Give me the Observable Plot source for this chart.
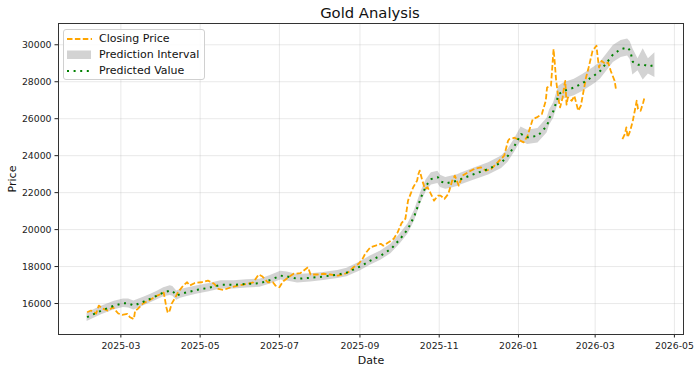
<!DOCTYPE html>
<html><head><meta charset="utf-8">
<script src="https://cdn.jsdelivr.net/npm/d3@7"></script>
<script src="https://cdn.jsdelivr.net/npm/@observablehq/plot@0.6"></script>
<style>
body{margin:0;background:#fff;font-family:"DejaVu Sans",sans-serif;}
#wrap{position:relative;width:700px;height:372px;overflow:hidden;}
#title{height:22px;width:700px;text-align:center;font-size:14.8px;line-height:26px;color:#111;padding-left:40px;box-sizing:border-box;white-space:nowrap;}
#chart svg{display:block;}
#legend{position:absolute;left:63px;top:29px;width:142px;height:51px;border:1px solid #d0d0d0;border-radius:3px;background:rgba(255,255,255,0.85);box-sizing:border-box;font-size:11px;color:#111;}
.row{position:absolute;left:0;height:16px;width:140px;}
.row svg{position:absolute;left:3px;top:0;}
.row span{position:absolute;left:35px;top:0;line-height:16px;white-space:nowrap;}
</style></head>
<body>
<div id="wrap">
<div id="title">Gold Analysis</div>
<div id="chart"></div>
<div id="legend">
 <div class="row" style="top:1px"><svg width="25" height="16"><line x1="0" x2="25" y1="8" y2="8" stroke="#FFA500" stroke-width="1.8" stroke-dasharray="5.5,2.4"/></svg><span>Closing Price</span></div>
 <div class="row" style="top:17px"><svg width="25" height="16"><rect x="0" y="3.5" width="24" height="8.5" fill="gray" fill-opacity="0.35"/></svg><span>Prediction Interval</span></div>
 <div class="row" style="top:33px"><svg width="25" height="16"><line x1="0" x2="25" y1="8" y2="8" stroke="green" stroke-width="2" stroke-dasharray="2,4.6"/></svg><span>Predicted Value</span></div>
</div>
</div>
<script>
const closeDates = ["2025-02-03","2025-02-06","2025-02-10","2025-02-12","2025-02-15","2025-02-19","2025-02-23","2025-02-25","2025-02-27","2025-03-02","2025-03-06","2025-03-08","2025-03-11","2025-03-12","2025-03-14","2025-03-18","2025-03-24","2025-03-29","2025-04-01","2025-04-03","2025-04-05","2025-04-06","2025-04-07","2025-04-08","2025-04-09","2025-04-12","2025-04-14","2025-04-18","2025-04-21","2025-04-23","2025-04-27","2025-05-02","2025-05-07","2025-05-12","2025-05-15","2025-05-19","2025-05-25","2025-05-30","2025-06-06","2025-06-11","2025-06-15","2025-06-18","2025-06-22","2025-06-26","2025-06-28","2025-07-01","2025-07-04","2025-07-08","2025-07-12","2025-07-17","2025-07-23","2025-07-25","2025-07-30","2025-08-04","2025-08-09","2025-08-15","2025-08-19","2025-08-23","2025-08-27","2025-08-31","2025-09-03","2025-09-05","2025-09-09","2025-09-13","2025-09-17","2025-09-19","2025-09-23","2025-09-27","2025-09-30","2025-10-03","2025-10-06","2025-10-08","2025-10-10","2025-10-12","2025-10-15","2025-10-16","2025-10-17","2025-10-19","2025-10-21","2025-10-23","2025-10-25","2025-10-28","2025-10-31","2025-11-02","2025-11-05","2025-11-08","2025-11-11","2025-11-13","2025-11-15","2025-11-16","2025-11-19","2025-11-23","2025-11-28","2025-12-03","2025-12-07","2025-12-11","2025-12-16","2025-12-21","2025-12-24","2025-12-25","2025-12-29","2026-01-05","2026-01-08","2026-01-12","2026-01-15","2026-01-19","2026-01-22","2026-01-23","2026-01-26","2026-01-28","2026-01-29","2026-01-30","2026-02-01","2026-02-02","2026-02-04","2026-02-05","2026-02-06","2026-02-07","2026-02-08","2026-02-11","2026-02-13","2026-02-16","2026-02-18","2026-02-22","2026-02-24","2026-02-27","2026-03-02","2026-03-03","2026-03-04","2026-03-06","2026-03-09","2026-03-11","2026-03-13","2026-03-16","2026-03-17","2026-03-19","2026-03-22","2026-03-24","2026-03-25","2026-03-26","2026-03-28","2026-03-30","2026-04-01","2026-04-02","2026-04-03","2026-04-05","2026-04-07","2026-04-08"];
const closeValues = [15530,15620,15460,15890,15730,15620,15800,15620,15460,15390,15440,15260,15160,15620,15710,16000,16220,16430,16520,16590,15800,15530,15510,15710,15980,16340,16610,16970,17150,16970,17110,17150,17240,17060,16790,16740,16880,16970,17060,17150,17570,17460,17150,17150,16970,16880,17210,17420,17610,17640,17960,17570,17570,17610,17570,17510,17570,17690,17960,18150,18420,18690,19040,19130,19230,19130,19310,19500,19850,20350,20590,21570,21930,22290,22650,23010,23190,22650,22200,22290,22020,21570,21840,21840,21660,21930,22650,22920,22560,22380,22920,23100,23280,23370,23190,23280,23640,24000,24810,24900,24970,24720,25080,25980,26070,26250,26970,27690,27780,29770,28970,28050,26970,26610,27150,27690,28050,26760,27150,26970,27240,26430,26700,28230,28770,29670,29950,29310,28770,29130,28950,29040,28590,28050,27600,NaN,24900,25190,25530,24990,25350,25890,26610,26970,26520,26430,26880,27150];

const predDates = ["2025-02-03","2025-02-14","2025-02-24","2025-03-03","2025-03-07","2025-03-11","2025-03-15","2025-03-19","2025-03-24","2025-03-29","2025-04-03","2025-04-08","2025-04-10","2025-04-13","2025-04-16","2025-04-21","2025-04-29","2025-05-08","2025-05-17","2025-05-27","2025-06-06","2025-06-16","2025-06-24","2025-07-02","2025-07-07","2025-07-15","2025-07-25","2025-08-04","2025-08-15","2025-08-22","2025-09-01","2025-09-09","2025-09-17","2025-09-25","2025-10-02","2025-10-08","2025-10-13","2025-10-18","2025-10-22","2025-10-26","2025-10-31","2025-11-02","2025-11-06","2025-11-10","2025-11-15","2025-11-18","2025-11-28","2025-12-09","2025-12-19","2025-12-24","2025-12-29","2026-01-03","2026-01-08","2026-01-16","2026-01-23","2026-01-25","2026-01-28","2026-02-01","2026-02-05","2026-02-13","2026-02-20","2026-02-28","2026-03-05","2026-03-11","2026-03-15","2026-03-21","2026-03-26","2026-03-28","2026-03-30","2026-04-03","2026-04-07","2026-04-11","2026-04-16"];
const predValues = [15260,15620,15890,16020,16000,15890,16000,16120,16270,16430,16610,16700,16660,16430,16520,16610,16740,16860,17010,17010,17060,17100,17280,17510,17460,17340,17390,17460,17570,17680,18000,18320,18590,18960,19500,20040,20760,21750,22380,22740,22830,22610,22500,22560,22650,22740,23010,23280,23640,24000,24540,25170,24990,25080,25620,26070,26430,27330,27510,27690,27960,28320,28590,29130,29500,29770,29850,29680,29080,28920,28935,28830,28900];
const predHalfWidth = [230,230,230,230,240,240,240,230,230,230,240,260,260,250,240,230,220,220,220,220,220,220,230,240,240,230,220,220,220,230,240,250,250,260,270,280,290,300,320,330,330,330,320,320,320,320,320,330,340,350,360,380,380,390,400,410,420,430,440,450,460,460,460,460,460,460,460,480,720,320,845,410,675];

const xTickLabels = ["2025-03","2025-05","2025-07","2025-09","2025-11","2026-01","2026-03","2026-05"];
const yTickValues = [16000,18000,20000,22000,24000,26000,28000,30000];

const parse = d3.utcParse("%Y-%m-%d");
const parseM = d3.utcParse("%Y-%m");
const closeData = closeDates.map((d,i)=>({date:parse(d), value:closeValues[i]}));
const predData = predDates.map((d,i)=>({date:parse(d), value:predValues[i], lo:predValues[i]-predHalfWidth[i], hi:predValues[i]+predHalfWidth[i]}));
const xTicks = xTickLabels.map(parseM);

const chart = Plot.plot({
  width:700, height:350,
  marginTop:1, marginBottom:38, marginLeft:58, marginRight:17,
  style:{fontFamily:"DejaVu Sans, sans-serif", fontSize:"9.3px", color:"#222", background:"#fff"},
  x:{type:"utc", domain:[parse("2025-01-12"), parse("2026-05-08")]},
  y:{domain:[14324,31151]},
  marks:[
    Plot.gridX(xTicks, {stroke:"#b0b0b0", strokeOpacity:0.35, strokeWidth:0.8}),
    Plot.gridY(yTickValues, {stroke:"#b0b0b0", strokeOpacity:0.35, strokeWidth:0.8}),
    Plot.areaY(predData, {x:"date", y1:"lo", y2:"hi", fill:"gray", fillOpacity:0.35}),
    Plot.line(closeData, {x:"date", y:"value", stroke:"#FFA500", strokeWidth:1.8, strokeDasharray:"5.5,2.4", strokeLinecap:"butt", strokeLinejoin:"round"}),
    Plot.line(predData, {x:"date", y:"value", stroke:"green", strokeWidth:2, strokeDasharray:"2,4.6", strokeLinecap:"butt", strokeLinejoin:"round"}),
    Plot.axisX({ticks:xTicks, tickFormat:d3.utcFormat("%Y-%m"), tickSize:3.5, tickPadding:4.5, label:null, stroke:"#222"}),
    Plot.axisY({ticks:yTickValues, tickFormat:d3.format("d"), tickSize:3.5, tickPadding:3.5, label:null, stroke:"#222"}),
    Plot.frame({stroke:"#333", strokeWidth:1}),
    Plot.text(["Date"], {frameAnchor:"bottom", lineAnchor:"middle", textAnchor:"middle", dy:25.5, fontSize:11, fill:"#111"}),
    Plot.text(["Price"], {frameAnchor:"left", lineAnchor:"middle", textAnchor:"middle", dx:-46, rotate:-90, fontSize:11, fill:"#111"})
  ]
});
document.getElementById("chart").appendChild(chart);
</script>
</body></html>
